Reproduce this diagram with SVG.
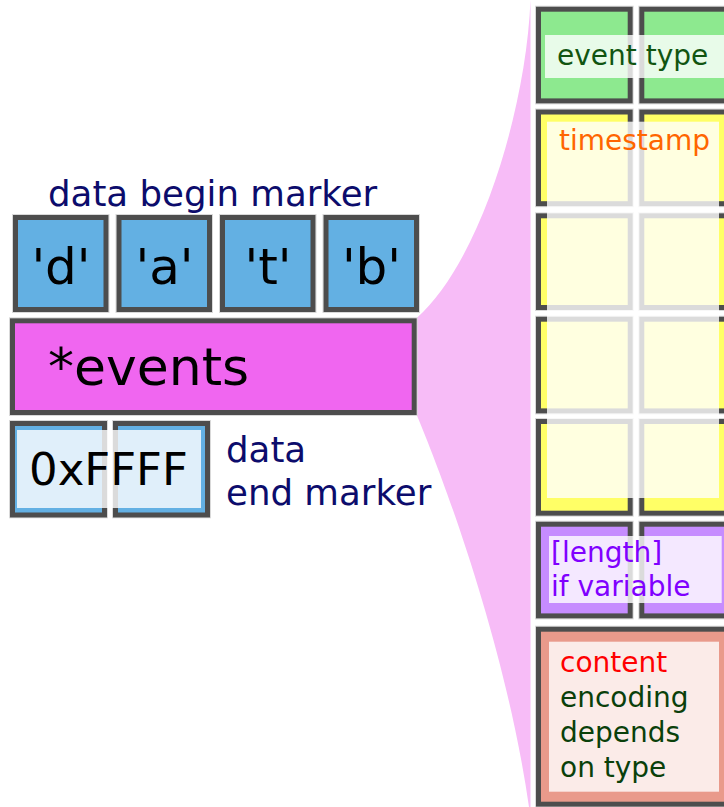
<svg xmlns="http://www.w3.org/2000/svg" width="724" height="807" viewBox="0 0 724 807">
  <style>
    text { font-family: "DejaVu Sans", "Liberation Sans", sans-serif; }
    .rim { fill: none; stroke: #d9d9d9; stroke-width: 1; }
    .box { stroke: #4d4d4d; stroke-width: 5; }
    .blue { fill: #63b0e3; }
    .magenta { fill: #f066f0; }
    .green { fill: #8de98f; }
    .yellow { fill: #ffff66; }
    .purple { fill: #c68cff; }
    .salmon { fill: #e99a8b; }
    .veil { fill: #ffffff; fill-opacity: 0.8; }
    .navy { fill: #0c0c6c; font-size: 35.6px; }
    .glyph { fill: #000000; font-size: 50px; text-anchor: middle; }
    .small { font-size: 28px; }
    .fan { fill: #f7bcf7; }
  </style>

  <!-- expansion fan from *events to the event record -->
  <g id="connectors">
    <path class="fan" d="M 416.7,318 C 480,262 526,110 530.5,0 L 530.5,807 L 529,807 C 505,640 440,470 416.7,415 Z"/>
  </g>

  <!-- 'd' 'a' 't' 'b' begin marker -->
  <g id="begin-marker">
    <text class="navy" x="48" y="206">data begin marker</text>
    <rect class="rim" x="12.5" y="214.5" width="96.5" height="98"/>
    <rect class="rim" x="116" y="214.5" width="96.5" height="98"/>
    <rect class="rim" x="219.5" y="214.5" width="96.5" height="98"/>
    <rect class="rim" x="323" y="214.5" width="96.5" height="98"/>
    <rect class="box blue" x="15.5" y="217.5" width="90.5" height="92"/>
    <rect class="box blue" x="119" y="217.5" width="90.5" height="92"/>
    <rect class="box blue" x="222.5" y="217.5" width="90.5" height="92"/>
    <rect class="box blue" x="326" y="217.5" width="90.5" height="92"/>
    <text class="glyph" x="61" y="284">'d'</text>
    <text class="glyph" x="164.5" y="284">'a'</text>
    <text class="glyph" x="268" y="284">'t'</text>
    <text class="glyph" x="371.5" y="284">'b'</text>
  </g>

  <!-- *events -->
  <g id="events">
    <rect class="rim" x="9.5" y="317.8" width="407.7" height="97.7"/>
    <rect class="box magenta" x="12.5" y="320.8" width="401.7" height="91.7"/>
    <text x="48" y="385" font-size="52" fill="#000000">*events</text>
  </g>

  <!-- 0xFFFF end marker -->
  <g id="end-marker">
    <rect class="rim" x="9.5" y="420.5" width="98" height="97.3"/>
    <rect class="rim" x="112.5" y="420.5" width="98" height="97.3"/>
    <rect class="box blue" x="12.5" y="423.5" width="92" height="91.5"/>
    <rect class="box blue" x="115.5" y="423.5" width="92" height="91.5"/>
    <rect class="veil" x="17" y="430" width="184" height="78"/>
    <text x="29" y="485" font-size="45" fill="#000000">0xFFFF</text>
    <text class="navy" x="226" y="462">data</text>
    <text class="navy" x="226" y="505">end marker</text>
  </g>

  <!-- event type row -->
  <g id="event-type">
    <rect class="rim" x="535.5" y="6.2" width="97.7" height="97.7"/>
    <rect class="rim" x="638.8" y="6.2" width="97.7" height="97.7"/>
    <rect class="box green" x="538.5" y="9.2" width="91.7" height="91.7"/>
    <rect class="box green" x="641.8" y="9.2" width="91.7" height="91.7"/>
    <rect class="veil" x="545" y="35" width="190" height="43"/>
    <text class="small" x="557" y="65" fill="#115511">event type</text>
  </g>

  <!-- timestamp rows -->
  <g id="timestamp">
    <rect class="rim" x="535.5" y="109" width="97.7" height="97.7"/>
    <rect class="rim" x="638.8" y="109" width="97.7" height="97.7"/>
    <rect class="rim" x="535.5" y="212.8" width="97.7" height="97.7"/>
    <rect class="rim" x="638.8" y="212.8" width="97.7" height="97.7"/>
    <rect class="rim" x="535.5" y="316.2" width="97.7" height="97.7"/>
    <rect class="rim" x="638.8" y="316.2" width="97.7" height="97.7"/>
    <rect class="rim" x="535.5" y="418.5" width="97.7" height="97.7"/>
    <rect class="rim" x="638.8" y="418.5" width="97.7" height="97.7"/>
    <rect class="box yellow" x="538.5" y="112" width="91.7" height="91.7"/>
    <rect class="box yellow" x="641.8" y="112" width="91.7" height="91.7"/>
    <rect class="box yellow" x="538.5" y="215.8" width="91.7" height="91.7"/>
    <rect class="box yellow" x="641.8" y="215.8" width="91.7" height="91.7"/>
    <rect class="box yellow" x="538.5" y="319.2" width="91.7" height="91.7"/>
    <rect class="box yellow" x="641.8" y="319.2" width="91.7" height="91.7"/>
    <rect class="box yellow" x="538.5" y="421.5" width="91.7" height="91.7"/>
    <rect class="box yellow" x="641.8" y="421.5" width="91.7" height="91.7"/>
    <rect class="veil" x="547" y="121.7" width="172" height="376.3"/>
    <text class="small" x="559" y="150" fill="#ff6600">timestamp</text>
  </g>

  <!-- optional length row -->
  <g id="length">
    <rect class="rim" x="535.5" y="521.2" width="97.7" height="97.7"/>
    <rect class="rim" x="638.8" y="521.2" width="97.7" height="97.7"/>
    <rect class="box purple" x="538.5" y="524.2" width="91.7" height="91.7"/>
    <rect class="box purple" x="641.8" y="524.2" width="91.7" height="91.7"/>
    <rect class="veil" x="549" y="536" width="172.7" height="67"/>
    <text class="small" x="551" y="561.5" fill="#8000ff">[length]</text>
    <text class="small" x="551" y="596" fill="#8000ff">if variable</text>
  </g>

  <!-- content block -->
  <g id="content">
    <rect class="rim" x="535.5" y="626.2" width="304" height="183"/>
    <rect class="box salmon" x="538.5" y="629.2" width="300" height="175"/>
    <rect class="veil" x="549" y="641.7" width="170" height="150"/>
    <text class="small" x="560" y="671.7" fill="#ff0000">content</text>
    <text class="small" x="560" y="706.7" fill="#0a400a">encoding</text>
    <text class="small" x="560" y="741.7" fill="#0a400a">depends</text>
    <text class="small" x="560" y="776.7" fill="#0a400a">on type</text>
  </g>
</svg>
